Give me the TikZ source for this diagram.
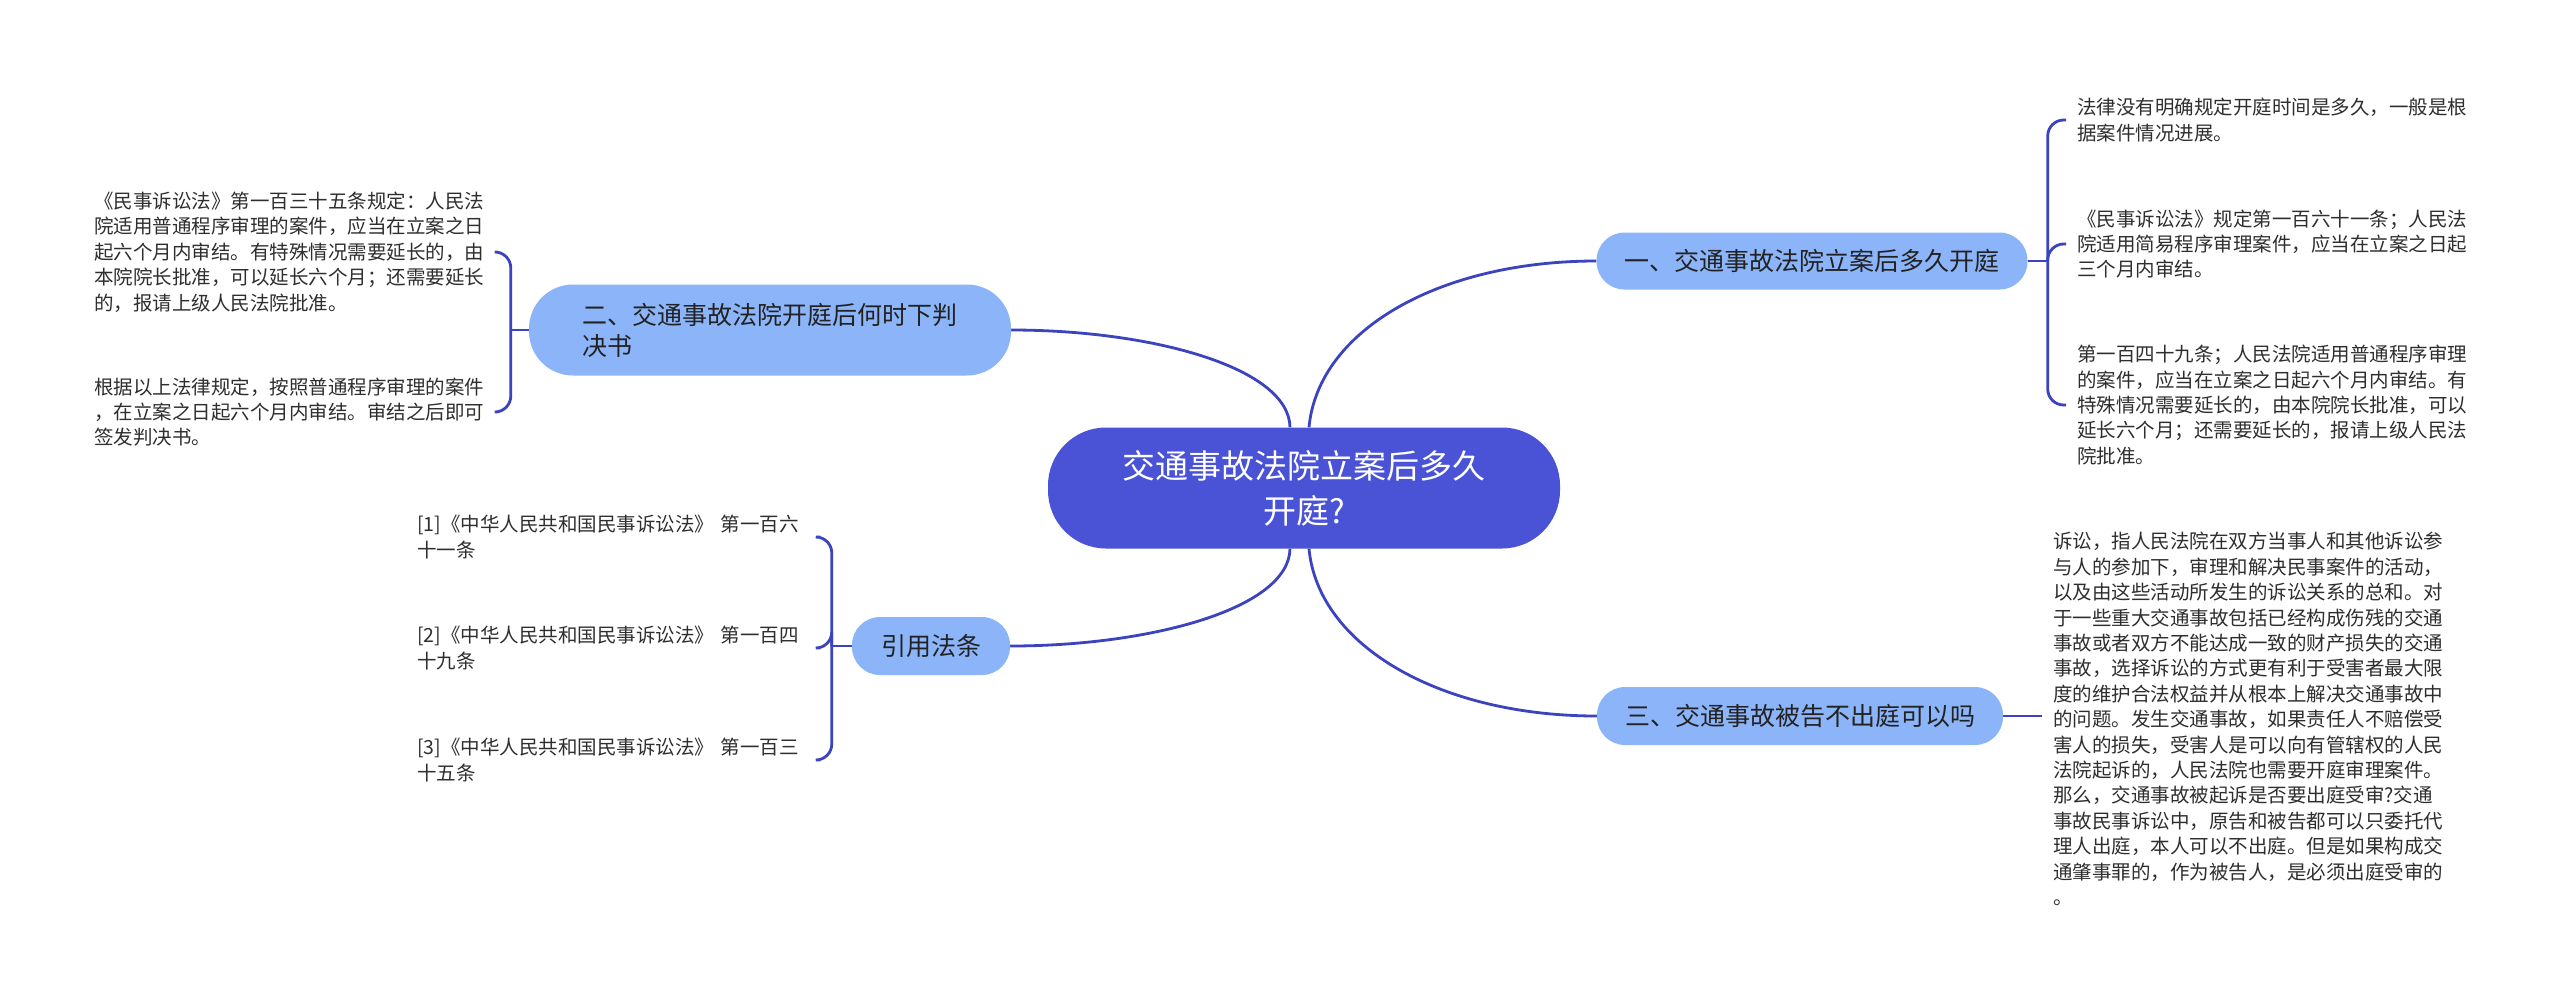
\documentclass[tikz,border=0pt]{standalone}
\usepackage{fontspec}
\setmainfont{Noto Sans CJK SC}
\usetikzlibrary{calc}
\pgfdeclarelayer{background}
\pgfsetlayers{background,main}
\definecolor{mainblue}{HTML}{4A52D6}
\definecolor{topicblue}{HTML}{8CB4F9}
\definecolor{linkblue}{HTML}{3B43BF}
\definecolor{leaftext}{HTML}{2E2E2E}
\definecolor{topictext}{HTML}{222222}
\tikzset{
  rootnode/.style={fill=mainblue, text=white, rounded corners=58pt, minimum width=512pt, minimum height=121pt, inner sep=0pt, align=center, font=\fontsize{33}{45}\selectfont},
  topicnode/.style={fill=topicblue, text=topictext, inner sep=0pt, rounded corners=28pt, font=\fontsize{25}{31}\selectfont},
  leafnode/.style={text=leaftext, align=left, text width=392pt, inner xsep=11pt, inner ysep=0pt, font=\fontsize{19.5}{25.4}\selectfont},
  link/.style={draw=linkblue, line width=2.8pt},
  bracelink/.style={link, rounded corners=16pt}
}
\begin{document}
\begin{tikzpicture}[x=1pt,y=-1pt]
% main nodes
\node[rootnode] (c) at (1304,488) {交通事故法院立案后多久\\开庭?};
\node[topicnode, minimum width=431pt, minimum height=57pt] (t1) at (1812,261) {一、交通事故法院立案后多久开庭};
\node[topicnode, minimum width=482pt, minimum height=91pt, rounded corners=44pt, align=left] (t2) at (770,330) {二、交通事故法院开庭后何时下判\\决书};
\node[topicnode, minimum width=406pt, minimum height=58pt] (t3) at (1800,716) {三、交通事故被告不出庭可以吗};
\node[topicnode, minimum width=158pt, minimum height=58pt] (tr) at (931,646) {引用法条};
% leaves of t1
\node[leafnode, anchor=west] (r1) at (2066,120) {法律没有明确规定开庭时间是多久，一般是根\\据案件情况进展。};
\node[leafnode, anchor=west] (r2) at (2066,244) {《民事诉讼法》规定第一百六十一条；人民法\\院适用简易程序审理案件，应当在立案之日起\\三个月内审结。};
\node[leafnode, anchor=west] (r3) at (2066,405) {第一百四十九条；人民法院适用普通程序审理\\的案件，应当在立案之日起六个月内审结。有\\特殊情况需要延长的，由本院院长批准，可以\\延长六个月；还需要延长的，报请上级人民法\\院批准。};
% leaves of t2
\node[leafnode, anchor=west] (l1) at (83,252) {《民事诉讼法》第一百三十五条规定：人民法\\院适用普通程序审理的案件，应当在立案之日\\起六个月内审结。有特殊情况需要延长的，由\\本院院长批准，可以延长六个月；还需要延长\\的，报请上级人民法院批准。};
\node[leafnode, anchor=west] (l2) at (83,412) {根据以上法律规定，按照普通程序审理的案件\\，在立案之日起六个月内审结。审结之后即可\\签发判决书。};
% leaf of t3
\node[leafnode, anchor=west] (l3) at (2042,719) {诉讼，指人民法院在双方当事人和其他诉讼参\\与人的参加下，审理和解决民事案件的活动，\\以及由这些活动所发生的诉讼关系的总和。对\\于一些重大交通事故包括已经构成伤残的交通\\事故或者双方不能达成一致的财产损失的交通\\事故，选择诉讼的方式更有利于受害者最大限\\度的维护合法权益并从根本上解决交通事故中\\的问题。发生交通事故，如果责任人不赔偿受\\害人的损失，受害人是可以向有管辖权的人民\\法院起诉的，人民法院也需要开庭审理案件。\\那么，交通事故被起诉是否要出庭受审?交通\\事故民事诉讼中，原告和被告都可以只委托代\\理人出庭，本人可以不出庭。但是如果构成交\\通肇事罪的，作为被告人，是必须出庭受审的\\。};
% references
\node[leafnode, anchor=west] (f1) at (406,537) {[1]《中华人民共和国民事诉讼法》 第一百六\\十一条};
\node[leafnode, anchor=west] (f2) at (406,648) {[2]《中华人民共和国民事诉讼法》 第一百四\\十九条};
\node[leafnode, anchor=west] (f3) at (406,760) {[3]《中华人民共和国民事诉讼法》 第一百三\\十五条};
% junctions
\coordinate (j1) at ($(t1.east)+(20,0)$);
\coordinate (j2) at ($(t2.west)+(-18,0)$);
\coordinate (jr) at ($(tr.west)+(-20,0)$);
\begin{pgfonlayer}{background}
\path[use as bounding box, fill=white] (0,0) rectangle (2560,997);
% main curves
\draw[link] ($(c.north)+(-14,0)$) .. controls ($(c.north)+(-15,-60)$) and ($(t2.east)+(140,0)$) .. (t2.east);
\draw[link] ($(c.north)+(5,0)$) .. controls ($(c.north)+(14,-97)$) and ($(t1.west)+(-157,0)$) .. (t1.west);
\draw[link] ($(c.south)+(-14,0)$) .. controls ($(c.south)+(-15,60)$) and ($(tr.east)+(140,0)$) .. (tr.east);
\draw[link] ($(c.south)+(5,0)$) .. controls ($(c.south)+(14,97)$) and ($(t3.west)+(-157,0)$) .. (t3.west);
% t1 children
\draw[link] (t1.east) -- (j1);
\draw[bracelink] (j1) |- (r1.west);
\draw[bracelink] (j1) |- (r2.west);
\draw[bracelink] (j1) |- (r3.west);
% t2 children
\draw[link] (t2.west) -- (j2);
\draw[bracelink] (j2) |- (l1.east);
\draw[bracelink] (j2) |- (l2.east);
% t3 child
\draw[link] (t3.east) -- (t3.east -| l3.west);
% references
\draw[link] (tr.west) -- (jr);
\draw[bracelink] (jr) |- (f1.east);
\draw[bracelink] (jr) |- (f2.east);
\draw[bracelink] (jr) |- (f3.east);
\end{pgfonlayer}
\end{tikzpicture}
\end{document}
